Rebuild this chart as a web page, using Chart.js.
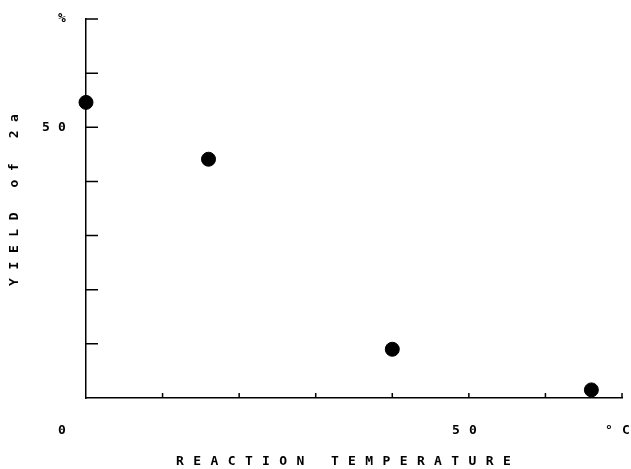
<!DOCTYPE html>
<html>
<head>
<meta charset="utf-8">
<script src="https://cdn.jsdelivr.net/npm/chart.js@4/dist/chart.umd.min.js"></script>
<style>
  html, body { margin: 0; padding: 0; background: #fff; }
  canvas { display: block; }
</style>
</head>
<body>
<canvas id="myChart" width="631" height="469"></canvas>
<script>
// yield of 2a vs reaction temperature
const temperatures = [0, 16, 40, 66];
const yields = [54.6, 44.1, 9.0, 1.5];

const xTickValues = [0, 10, 20, 30, 40, 50, 60, 70];
const yTickValues = [0, 10, 20, 30, 40, 50, 60, 70];
const xLabelValues = [0, 50, 70];
const xLabelTexts = ['0', '50', '°C'];
const yLabelValues = [50, 70];
const yLabelTexts = ['50', '%'];
const xTitle = 'REACTION TEMPERATURE';
const yTitle = 'YIELD of 2a';

const FONT = 'bold 13px "DejaVu Sans Mono", monospace';

// draw text one character at a time on a fixed pitch (plotter look)
function spacedText(ctx, text, x, y, pitch) {
  for (let i = 0; i < text.length; i++) {
    ctx.fillText(text[i], x + i * pitch, y);
  }
}

const plotterAxes = {
  id: 'plotterAxes',
  afterDraw(chart) {
    const ctx = chart.ctx;
    const xs = chart.scales.x;
    const ys = chart.scales.y;
    const left = xs.getPixelForValue(0);
    const bottom = ys.getPixelForValue(0);
    ctx.save();
    ctx.strokeStyle = '#000';
    ctx.lineWidth = 1.5;
    ctx.beginPath();
    // inward ticks
    xTickValues.forEach(v => {
      if (v === 0) return;
      const px = xs.getPixelForValue(v);
      ctx.moveTo(px, bottom);
      ctx.lineTo(px, bottom - 5);
    });
    yTickValues.forEach(v => {
      if (v === 0) return;
      const py = ys.getPixelForValue(v);
      ctx.moveTo(left, py);
      ctx.lineTo(left + 12, py);
    });
    ctx.stroke();

    ctx.fillStyle = '#000';
    ctx.font = FONT;
    ctx.textAlign = 'center';
    ctx.textBaseline = 'middle';
    const pitch = 17;

    // y tick labels, right aligned column
    yLabelValues.forEach((v, i) => {
      const t = yLabelTexts[i];
      const py = ys.getPixelForValue(v);
      const lastX = left - 24;
      spacedText(ctx, t, lastX - (t.length - 1) * 16, py, 16);
    });

    // x tick labels
    const labelY = bottom + 33;
    xLabelValues.forEach((v, i) => {
      const t = xLabelTexts[i];
      const px = xs.getPixelForValue(v);
      const lastX = v === 0 ? px - 24 : px + 4;
      spacedText(ctx, t, lastX - (t.length - 1) * pitch, labelY, pitch);
    });

    // axis titles
    spacedText(ctx, xTitle, 180, bottom + 64, 17.2);
    ctx.translate(15, 282);
    ctx.rotate(-Math.PI / 2);
    spacedText(ctx, yTitle, 0, 0, 16.4);
    ctx.restore();
  }
};

new Chart(document.getElementById('myChart'), {
  type: 'scatter',
  data: {
    datasets: [{
      label: 'Yield of 2a',
      data: temperatures.map((t, i) => ({ x: t, y: yields[i] })),
      backgroundColor: '#000',
      borderColor: '#000',
      pointRadius: 7,
      pointHoverRadius: 7,
      clip: false
    }]
  },
  options: {
    responsive: false,
    animation: false,
    layout: {
      padding: { left: 86, top: 19, right: 9, bottom: 71 }
    },
    plugins: {
      legend: { display: false },
      tooltip: { enabled: false }
    },
    scales: {
      x: {
        type: 'linear',
        min: 0,
        max: 70,
        ticks: { display: false, stepSize: 10 },
        grid: { display: false, drawTicks: false },
        border: { display: true, color: '#000', width: 1.5 }
      },
      y: {
        type: 'linear',
        min: 0,
        max: 70,
        ticks: { display: false, stepSize: 10 },
        grid: { display: false, drawTicks: false },
        border: { display: true, color: '#000', width: 1.5 }
      }
    }
  },
  plugins: [plotterAxes]
});
</script>
</body>
</html>
